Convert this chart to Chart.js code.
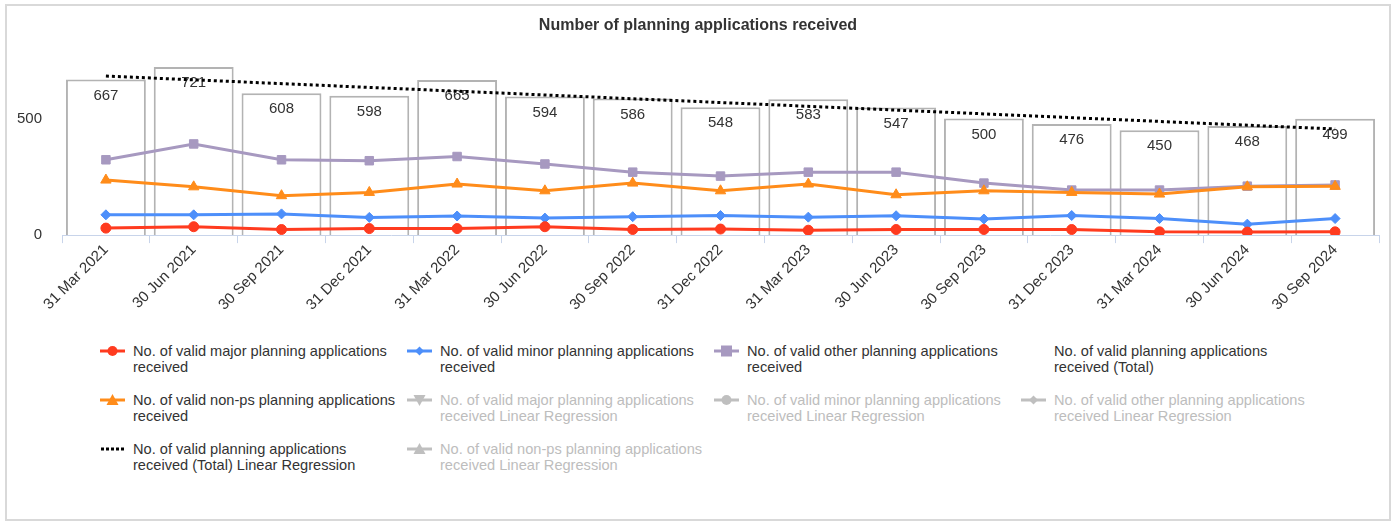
<!DOCTYPE html>
<html>
<head>
<meta charset="utf-8">
<script src="https://cdn.jsdelivr.net/npm/chart.js@4.4.1/dist/chart.umd.min.js"></script>
<style>
    body { margin: 0; width: 1396px; height: 522px; background: #fff; overflow: hidden;
           font-family: "Liberation Sans", Arial, sans-serif; }
    #frame { position: absolute; left: 5px; top: 4px; width: 1386px; height: 517px;
             border: 2px solid #d9d9d9; box-sizing: border-box; }
    #chart-box { position: absolute; left: 0; top: 0; width: 1396px; height: 335px; }
    #legend { position: absolute; left: 100px; top: 343px; display: grid;
              grid-template-columns: repeat(4, 307px); row-gap: 17px; }
    .item { display: flex; align-items: flex-start; font-size: 14.6px; line-height: 16px; color: #333; }
    .item svg { flex: none; margin-right: 8px; }
    .item.off { color: #bdbdbd; }
</style>
</head>
<body>
<div id="frame"></div>
<div id="chart-box"><canvas id="chart-container"></canvas></div>
<div id="legend"></div>
<script>
const quarters = ["31 Mar 2021", "30 Jun 2021", "30 Sep 2021", "31 Dec 2021", "31 Mar 2022",
    "30 Jun 2022", "30 Sep 2022", "31 Dec 2022", "31 Mar 2023", "30 Jun 2023",
    "30 Sep 2023", "31 Dec 2023", "31 Mar 2024", "30 Jun 2024", "30 Sep 2024"];
const totalApps = [667, 721, 608, 598, 665, 594, 586, 548, 583, 547, 500, 476, 450, 468, 499];
const majorApps = [30, 36, 24, 28, 28, 36, 24, 26, 21, 24, 24, 24, 14, 13, 14];
const minorApps = [87, 87, 91, 76, 82, 73, 79, 84, 77, 83, 69, 84, 71, 47, 71];
const otherApps = [323, 391, 323, 319, 337, 305, 270, 253, 270, 270, 223, 193, 193, 210, 215];
const nonPsApps = [236, 207, 169, 183, 219, 190, 223, 190, 219, 173, 190, 183, 176, 207, 209];
// trend line: only its two ends
const totalTrend = [682, null, null, null, null, null, null, null, null, null, null, null, null, null, 455];
const yTicks = [0, 500];

const RED = "#ff3b1f", BLUE = "#4d8ffa", PURPLE = "#a799c0", ORANGE = "#ff8c1a", GREY = "#bfbfbf";
const FONT = "'Liberation Sans', Arial, sans-serif";

const legendItems = [
    { text: ["No. of valid major planning applications", "received"], color: RED, marker: "circle" },
    { text: ["No. of valid minor planning applications", "received"], color: BLUE, marker: "diamond" },
    { text: ["No. of valid other planning applications", "received"], color: PURPLE, marker: "square" },
    { text: ["No. of valid planning applications", "received (Total)"], color: null, marker: null },
    { text: ["No. of valid non-ps planning applications", "received"], color: ORANGE, marker: "triangle" },
    { text: ["No. of valid major planning applications", "received Linear Regression"], color: GREY, marker: "triangleDown", off: true },
    { text: ["No. of valid minor planning applications", "received Linear Regression"], color: GREY, marker: "circle", off: true },
    { text: ["No. of valid other planning applications", "received Linear Regression"], color: GREY, marker: "diamond", off: true },
    { text: ["No. of valid planning applications", "received (Total) Linear Regression"], color: "#000", marker: "dots" },
    { text: ["No. of valid non-ps planning applications", "received Linear Regression"], color: GREY, marker: "triangle", off: true },
];

function symbolSvg(item) {
    const c = item.color;
    let s = "";
    if (item.marker === "dots") {
        s = `<line x1="1" y1="8" x2="24" y2="8" stroke="${c}" stroke-width="3" stroke-dasharray="3,2"/>`;
    } else if (item.marker) {
        s = `<line x1="0" y1="8" x2="25" y2="8" stroke="${c}" stroke-width="3"/>`;
        if (item.marker === "circle") s += `<circle cx="12.5" cy="8" r="5" fill="${c}"/>`;
        if (item.marker === "diamond") s += `<path d="M12.5 3.5 L17 8 L12.5 12.5 L8 8 Z" fill="${c}"/>`;
        if (item.marker === "square") s += `<rect x="7" y="2.5" width="11" height="11" fill="${c}"/>`;
        if (item.marker === "triangle") s += `<path d="M12.5 2 L18.5 13 L6.5 13 Z" fill="${c}"/>`;
        if (item.marker === "triangleDown") s += `<path d="M6.5 3 L18.5 3 L12.5 14 Z" fill="${c}"/>`;
    }
    return `<svg width="25" height="16">${s}</svg>`;
}

const legend = document.getElementById("legend");
legendItems.forEach((item) => {
    const el = document.createElement("div");
    el.className = "item" + (item.off ? " off" : "");
    el.innerHTML = symbolSvg(item) + `<span>${item.text.join("<br>")}</span>`;
    legend.appendChild(el);
});

// value labels inside the top of each total bar, drawn before the lines
const barLabels = {
    id: "barLabels",
    afterDatasetDraw(chart, args) {
        if (args.index !== 0) return;
        const ctx = chart.ctx;
        ctx.save();
        ctx.font = "15px " + FONT;
        ctx.fillStyle = "#333";
        ctx.textAlign = "center";
        ctx.textBaseline = "middle";
        args.meta.data.forEach((bar, i) => {
            ctx.fillText(String(totalApps[i]), bar.x, bar.y + 16);
        });
        ctx.restore();
    },
};

const lineDs = (label, data, color, style, radius, order) => ({
    type: "line", label, data, order,
    borderColor: color, backgroundColor: color, borderWidth: 3,
    pointStyle: style, pointRadius: radius, pointBorderWidth: 1,
    pointBorderColor: color, pointBackgroundColor: color, tension: 0,
});

new Chart(document.getElementById("chart-container"), {
    type: "bar",
    data: {
        labels: quarters,
        datasets: [
            {
                label: "No. of valid planning applications received (Total)",
                data: totalApps, order: 10,
                backgroundColor: "#ffffff", borderColor: "#b3b3b3", borderWidth: 2,
                barPercentage: 0.91, categoryPercentage: 1,
            },
            lineDs("No. of valid other planning applications received", otherApps, PURPLE, "rect", 6, 4),
            lineDs("No. of valid non-ps planning applications received", nonPsApps, ORANGE, "triangle", 6, 3),
            lineDs("No. of valid minor planning applications received", minorApps, BLUE, "rectRot", 5, 2),
            lineDs("No. of valid major planning applications received", majorApps, RED, "circle", 5, 1),
            {
                type: "line", label: "No. of valid planning applications received (Total) Linear Regression",
                data: totalTrend, order: 0, spanGaps: true,
                borderColor: "#000", borderWidth: 3, borderDash: [3, 3], pointRadius: 0,
            },
        ],
    },
    options: {
        responsive: true,
        maintainAspectRatio: false,
        animation: false,
        layout: { padding: { left: 17, right: 17, top: 0, bottom: 23 } },
        plugins: {
            legend: { display: false },
            tooltip: { enabled: false },
            title: {
                display: true,
                text: "Number of planning applications received",
                color: "#333",
                font: { family: FONT, size: 16, weight: "bold" },
                padding: { top: 16, bottom: 25 },
            },
        },
        scales: {
            x: {
                grid: { display: true, drawOnChartArea: false, drawTicks: true, tickLength: 8, color: "#c8d4ea" },
                border: { display: true, color: "#c8d4ea", width: 1 },
                ticks: {
                    minRotation: 45, maxRotation: 45, padding: -2, color: "#333",
                    font: { family: FONT, size: 15 },
                },
            },
            y: {
                min: 0, max: 750,
                grid: { display: false, drawTicks: false },
                border: { display: false },
                afterFit: (scale) => { scale.width = 45; },
                afterBuildTicks: (scale) => { scale.ticks = yTicks.map((v) => ({ value: v })); },
                ticks: {
                    padding: 20, color: "#333",
                    font: { family: FONT, size: 15 },
                },
            },
        },
    },
    plugins: [barLabels],
});
</script>
</body>
</html>
